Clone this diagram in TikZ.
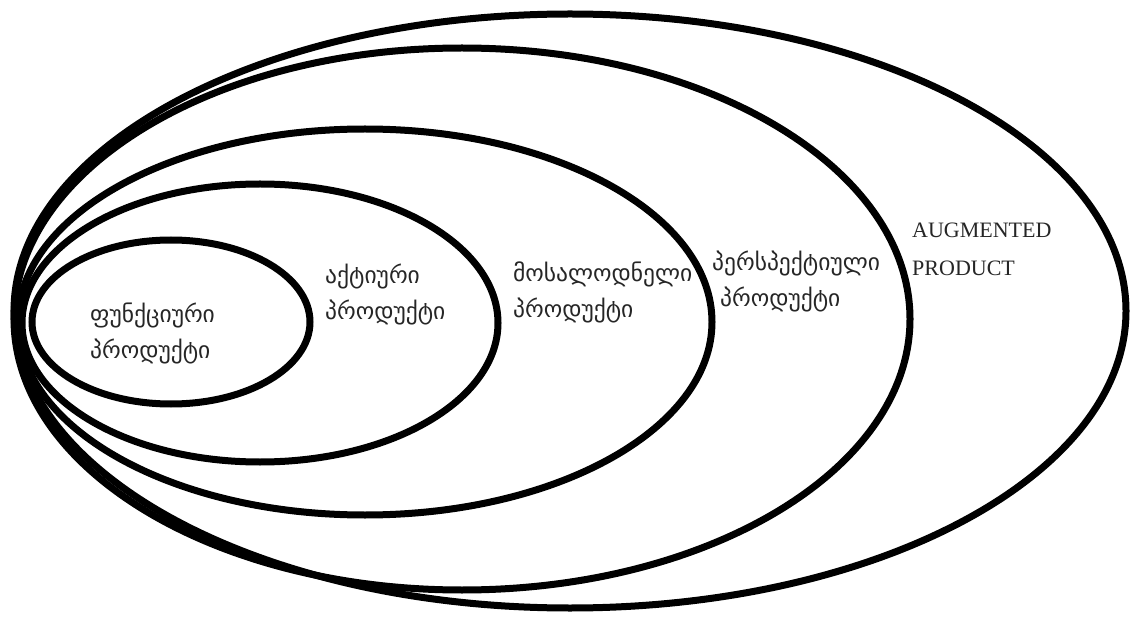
\documentclass[tikz,border=0pt]{standalone}
\usepackage{fontspec}
\usepackage{tikz}
\newfontfamily\geofont{DejaVu Sans}
\newfontfamily\latfont{Liberation Serif}
\tikzset{
  ring/.style={draw=black, line width=7pt},
  geolabel/.style={font=\geofont\fontsize{23.5}{36}\selectfont, align=left,
                   anchor=west, inner sep=0pt, text=black!85},
  latlabel/.style={font=\latfont\fontsize{22}{38}\selectfont, align=left,
                   anchor=west, inner sep=0pt, text=black!85},
}
\begin{document}
\begin{tikzpicture}[x=1pt, y=-1pt]
    \useasboundingbox[fill=white] (0,0) rectangle (1130,620);
    % nested product levels
    \draw[ring] (570,311) ellipse [x radius=556, y radius=297];
    \draw[ring] (462,319) ellipse [x radius=448, y radius=271];
    \draw[ring] (365,322) ellipse [x radius=347, y radius=193];
    \draw[ring] (260,323) ellipse [x radius=238, y radius=139];
    \draw[ring] (171,322) ellipse [x radius=139, y radius=82];
    % labels
    \node[geolabel] (core) at (90,333) {ფუნქციური\\პროდუქტი};
    \node[geolabel] (actual) at (325,294) {აქტიური\\პროდუქტი};
    \node[geolabel] (expected) at (513,292) {მოსალოდნელი\\პროდუქტი};
    \node[geolabel] (potential) at (712,281) {პერსპექტიული\\\hspace{8pt}პროდუქტი};
    \node[latlabel] (augmented) at (912,249) {AUGMENTED\\PRODUCT};
\end{tikzpicture}
\end{document}
